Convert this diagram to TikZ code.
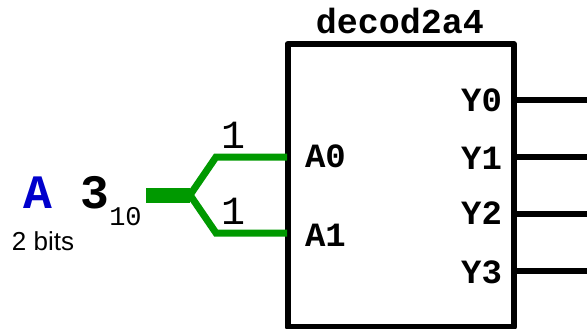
\documentclass[tikz,border=0pt]{standalone}
\usepackage{fontspec}
\setmainfont{Liberation Sans}
\setmonofont{Liberation Mono}
\usepackage{xcolor}
\usetikzlibrary{calc, positioning}
\definecolor{wiregreen}{RGB}{0,153,0}
\definecolor{nameblue}{RGB}{0,0,204}
\tikzset{
    chip/.style = {rectangle, draw, line width=6pt, line join=round, outer sep=0pt, minimum width=226.5pt, minimum height=283pt},
    pinlabel/.style = {anchor=base, inner sep=0pt, font=\ttfamily\bfseries\fontsize{34}{34}\selectfont},
    chipname/.style = {anchor=base, inner sep=0pt, font=\ttfamily\bfseries\fontsize{35}{35}\selectfont},
    biglabel/.style = {anchor=base, inner sep=0pt, font=\ttfamily\bfseries\fontsize{48}{48}\selectfont},
    widthlabel/.style = {anchor=base, inner sep=0pt, font=\ttfamily\fontsize{40}{40}\selectfont},
    radixlabel/.style = {anchor=base, inner sep=0pt, font=\ttfamily\fontsize{27}{27}\selectfont},
    bitslabel/.style = {anchor=base, inner sep=0pt, font=\fontsize{26}{26}\selectfont},
    buswire/.style = {draw=wiregreen, line width=15pt},
    inwire/.style = {draw=wiregreen, line width=7pt},
    outwire/.style = {draw=black, line width=6pt}
}
\begin{document}
\begin{tikzpicture}[x=1pt, y=-1pt]
    \useasboundingbox (0,0) rectangle (587,329);
    \node[chip] (dec) at (400.75,185.5) {};
    \node[chipname] (name) at (400,33.3) {decod2a4};
    % inputs
    \node[pinlabel] (a0) at (325.5,167.7) {A0};
    \node[pinlabel] (a1) at (325.5,246.2) {A1};
    % outputs
    \node[pinlabel] (y0) at (481.5,111.2) {Y0};
    \node[pinlabel] (y1) at (481.5,169) {Y1};
    \node[pinlabel] (y2) at (481.5,224) {Y2};
    \node[pinlabel] (y3) at (481.5,283) {Y3};
    % signal
    \node[biglabel, text=nameblue] (sig) at (38,208) {A};
    \node[biglabel] (val) at (95,208) {3};
    \node[radixlabel] (base) at (125.5,225) {10};
    \node[bitslabel] (size) at (43,250) {2 bits};
    \node[widthlabel] (w0) at (233.5,148) {1};
    \node[widthlabel] (w1) at (233.5,224) {1};
    % wires
    \coordinate (start) at (146,195);
    \coordinate (fork) at (190,195);
    \coordinate (up) at (216,157);
    \coordinate (down) at (216,233);
    \coordinate (in0) at (287,157);
    \coordinate (in1) at (287,233);
    \path[inwire] (fork) -- (up) -- (in0);
    \path[inwire] (fork) -- (down) -- (in1);
    \path[buswire] (start) -- (fork);
    \coordinate (o0) at (587,100.5);
    \coordinate (o1) at (587,157);
    \coordinate (o2) at (587,213.5);
    \coordinate (o3) at (587,270.5);
    \path[outwire] (dec.east |- o0) -- (o0);
    \path[outwire] (dec.east |- o1) -- (o1);
    \path[outwire] (dec.east |- o2) -- (o2);
    \path[outwire] (dec.east |- o3) -- (o3);
\end{tikzpicture}
\end{document}
